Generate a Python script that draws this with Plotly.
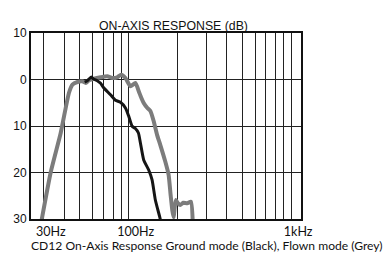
import plotly.graph_objects as go

# Grey curve: Flown mode
grey_freq = [28.8, 33.1, 38.1, 40.9, 42.8, 45.0, 48.3, 51.8, 54.3, 56.9, 61.0, 67.1, 73.7,
             79.1, 84.9, 89.8, 95.4, 102.4, 109.9, 115.2, 119.6, 123.6, 130.2, 135.9, 142.3,
             149.4, 156.5, 168.0, 176.0, 181.0, 185.4, 188.8, 194.8, 200.4, 207.6, 216.6,
             229.2, 241.5, 247.7]
grey_db = [-31.0, -19.9, -11.5, -6.1, -2.9, -1.1, -0.54, -0.39, -0.75, -0.17, 0.17, 0.47, 0.69,
           0.32, 0.47, 1.03, 0.32, -1.46, -0.75, -2.54, -3.98, -5.05, -6.13, -6.77, -8.92,
           -11.9, -14.1, -17.7, -20.5, -24.8, -28.1, -29.6, -25.9, -26.6, -27.0, -26.5,
           -26.6, -26.3, -30.6]

# Black curve: Ground mode
black_freq = [53.5, 55.6, 58.8, 60.7, 64.0, 67.1, 70.3, 77.2, 82.9, 88.9, 95.4, 100.0, 104.9,
              109.9, 114.7, 118.0, 123.6, 132.7, 139.2, 145.8, 155.0, 157.6]
black_db = [-0.54, -0.26, 0.54, 0.1, -0.26, -0.82, -1.83, -3.27, -4.47, -4.9, -6.13, -7.91,
            -10.06, -10.54, -11.5, -13.66, -17.3, -19.46, -21.6, -25.9, -29.5, -30.6]

x_tickvals = [30, 100, 1000]
x_ticktext = ["30Hz", "100Hz", "1kHz"]
x_gridvals = [30, 40, 50, 60, 70, 80, 90, 100, 200, 300, 400, 500, 600, 700, 800, 900, 1000]
y_tickvals = [-30, -20, -10, 0, 10]
y_ticktext = ["30", "20", "10", "0", "10"]

fig = go.Figure()
fig.add_trace(go.Scatter(x=grey_freq, y=grey_db, mode="lines",
                         line=dict(color="#7c7c7c", width=4, shape="spline", smoothing=0.5),
                         showlegend=False, hoverinfo="skip"))
fig.add_trace(go.Scatter(x=black_freq, y=black_db, mode="lines",
                         line=dict(color="#151515", width=3, shape="spline", smoothing=0.5),
                         showlegend=False, hoverinfo="skip"))

fig.update_layout(
    width=392, height=253,
    margin=dict(l=31, r=91, t=33, b=34),
    paper_bgcolor="white", plot_bgcolor="white",
    font=dict(family="Liberation Sans, Arial", size=12, color="#111"),
    annotations=[
        dict(text="ON-AXIS RESPONSE (dB)", xref="paper", yref="paper",
             x=0.526, y=1.04, xanchor="center", yanchor="middle", showarrow=False,
             font=dict(family="Liberation Sans, Arial", size=12.3, color="#111")),
        dict(text="CD12 On-Axis Response Ground mode (Black), Flown mode (Grey)",
             xref="paper", yref="paper", x=-0.008, y=-0.14, xanchor="left", yanchor="middle",
             showarrow=False, font=dict(family="Lato", size=12.1, color="#111")),
    ],
)
fig.update_xaxes(
    type="log", range=[1.398, 3.0607],
    tickmode="array", tickvals=x_tickvals, ticktext=x_ticktext,
    ticklabelshift=7,
    tickfont=dict(family="Lato", size=12.5, color="#111"),
    showgrid=True, gridcolor="#222", gridwidth=1,
    minor=dict(tickmode="array", tickvals=x_gridvals, showgrid=True, gridcolor="#222", gridwidth=1, ticks=""),
    showline=True, linecolor="#111", linewidth=2, mirror=True, ticks="", zeroline=False,
    automargin=False,
)
fig.update_yaxes(
    range=[-30, 10],
    tickmode="array", tickvals=y_tickvals, ticktext=y_ticktext,
    tickfont=dict(family="Liberation Sans, Arial", size=12, color="#111"),
    showgrid=True, gridcolor="#222", gridwidth=1,
    showline=True, linecolor="#111", linewidth=2, mirror=True, ticks="", zeroline=False,
    automargin=False,
)

fig.write_html("out.html", config={"displayModeBar": False},
               post_script="document.body.style.margin='0';document.body.style.overflow='hidden';")
